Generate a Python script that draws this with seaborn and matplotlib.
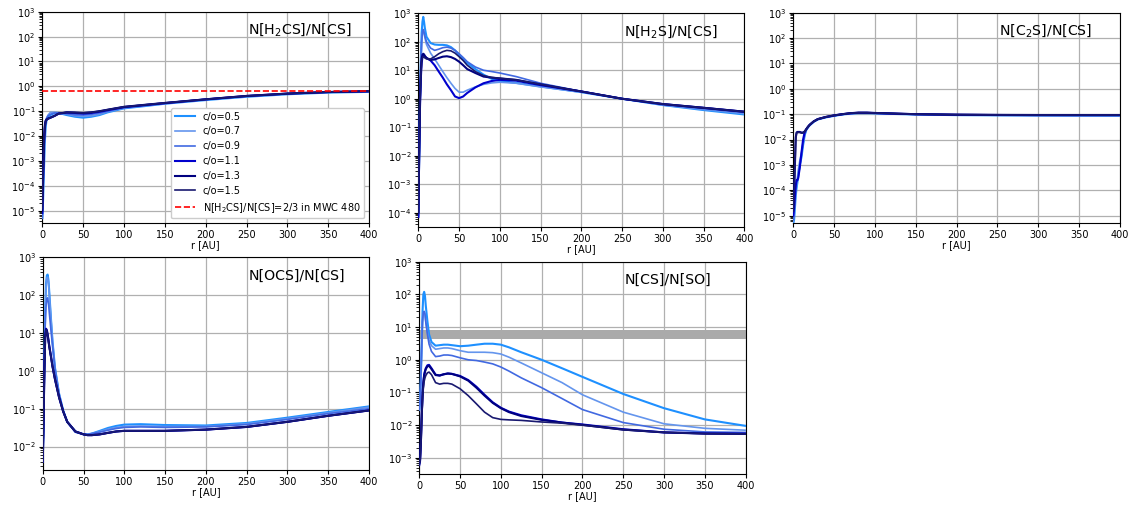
import math
import pandas as pd
import matplotlib
matplotlib.use("Agg")
import matplotlib.pyplot as plt
import matplotlib.ticker as mticker
import seaborn as sns

# ---- series setup ----
co_labels = ["c/o=0.5", "c/o=0.7", "c/o=0.9", "c/o=1.1", "c/o=1.3", "c/o=1.5"]
co_colors = ["#1E90FF", "#6495ED", "#4169E1", "#0000CD", "#000080", "#191970"]
co_widths = [1.5, 1.2, 1.2, 1.5, 1.5, 1.2]

# ---- N[H2CS]/N[CS] ----
r_h2cs = [0, 1, 2, 3, 4, 5, 7, 10, 15, 20, 30, 40, 50, 60, 70, 80, 100, 125, 150, 200, 250, 300, 350, 400]
h2cs_05 = [5e-6, 3e-5, 4e-4, 5e-3, 0.02, 0.04, 0.06, 0.07, 0.085, 0.085, 0.07, 0.06, 0.055, 0.06, 0.07, 0.09, 0.13, 0.16, 0.2, 0.28, 0.38, 0.48, 0.56, 0.6]
h2cs_07 = [6e-6, 5e-5, 8e-4, 8e-3, 0.03, 0.05, 0.07, 0.09, 0.09, 0.085, 0.075, 0.065, 0.062, 0.065, 0.075, 0.095, 0.135, 0.165, 0.2, 0.29, 0.39, 0.49, 0.57, 0.61]
h2cs_09 = [5e-6, 8e-5, 2e-3, 0.015, 0.035, 0.05, 0.065, 0.075, 0.085, 0.085, 0.08, 0.072, 0.07, 0.075, 0.085, 0.1, 0.14, 0.17, 0.21, 0.3, 0.4, 0.5, 0.58, 0.62]
h2cs_11 = [8e-6, 2e-4, 4e-3, 0.02, 0.04, 0.045, 0.05, 0.055, 0.065, 0.08, 0.088, 0.085, 0.08, 0.085, 0.095, 0.11, 0.145, 0.175, 0.21, 0.3, 0.41, 0.51, 0.59, 0.63]
h2cs_13 = [1e-5, 3e-4, 6e-3, 0.025, 0.04, 0.045, 0.05, 0.055, 0.065, 0.08, 0.09, 0.088, 0.085, 0.09, 0.1, 0.115, 0.15, 0.18, 0.215, 0.3, 0.41, 0.51, 0.59, 0.64]
h2cs_15 = [1.2e-5, 3e-4, 5e-3, 0.02, 0.035, 0.045, 0.05, 0.055, 0.065, 0.08, 0.09, 0.088, 0.085, 0.09, 0.1, 0.115, 0.15, 0.18, 0.215, 0.3, 0.41, 0.51, 0.59, 0.64]
mwc480_ratio = 2 / 3

# ---- N[H2S]/N[CS] ----
r_h2s = [0, 1, 2, 3, 4, 5, 6, 7, 8, 10, 15, 20, 25, 30, 35, 40, 45, 50, 55, 60, 70, 80, 90, 100, 120, 150, 200, 250, 300, 350, 400]
h2s_05 = [8e-5, 1e-2, 1, 20, 200, 500, 750, 500, 300, 150, 90, 80, 78, 78, 75, 65, 50, 35, 25, 18, 11, 7, 5, 4.2, 3.6, 2.7, 1.7, 1.0, 0.6, 0.4, 0.28]
h2s_07 = [7e-5, 5e-3, 0.5, 10, 80, 200, 260, 200, 140, 80, 40, 25, 15, 9, 5.5, 3.5, 2.3, 1.7, 1.7, 2.0, 2.6, 3.2, 3.6, 3.8, 3.5, 2.6, 1.7, 1.0, 0.6, 0.42, 0.3]
h2s_09 = [9e-5, 8e-3, 0.8, 15, 100, 220, 270, 220, 160, 100, 60, 50, 55, 62, 65, 60, 50, 38, 28, 20, 13, 10, 9, 8, 6, 3.5, 1.8, 1.0, 0.62, 0.45, 0.33]
h2s_11 = [7e-5, 1e-2, 0.5, 5, 18, 28, 32, 32, 30, 27, 22, 15, 9, 5.5, 3.2, 2, 1.2, 1.05, 1.2, 1.6, 2.5, 3.5, 4.2, 4.6, 4.3, 3.0, 1.8, 1.0, 0.65, 0.48, 0.35]
h2s_13 = [1e-4, 1e-2, 0.8, 8, 25, 35, 38, 36, 32, 27, 23, 24, 27, 30, 31, 29, 25, 20, 15, 11, 8, 6, 5.5, 5.2, 4.6, 3.2, 1.8, 1.0, 0.65, 0.48, 0.35]
h2s_15 = [1e-4, 1e-2, 0.7, 6, 20, 28, 30, 29, 27, 25, 25, 30, 38, 45, 50, 48, 40, 30, 22, 15, 9, 6.5, 5.6, 5.2, 4.6, 3.2, 1.8, 1.0, 0.65, 0.48, 0.35]

# ---- N[C2S]/N[CS] ----
r_c2s = [0, 1, 2, 3, 4, 5, 6, 8, 10, 12, 14, 16, 18, 20, 25, 30, 40, 50, 60, 70, 80, 90, 100, 125, 150, 200, 250, 300, 350, 400]
c2s_05 = [5e-6, 7e-6, 2e-5, 6e-5, 1.2e-4, 2e-4, 4e-4, 1e-3, 2e-3, 6e-3, 0.015, 0.024, 0.03, 0.036, 0.05, 0.062, 0.075, 0.086, 0.097, 0.105, 0.11, 0.11, 0.108, 0.102, 0.097, 0.092, 0.09, 0.089, 0.088, 0.087]
c2s_07 = [6e-6, 1e-5, 3e-5, 8e-5, 1.5e-4, 3e-4, 6e-4, 1.5e-3, 3e-3, 8e-3, 0.017, 0.025, 0.031, 0.037, 0.051, 0.063, 0.076, 0.087, 0.098, 0.106, 0.111, 0.111, 0.109, 0.103, 0.098, 0.093, 0.091, 0.09, 0.089, 0.088]
c2s_09 = [7e-6, 1.5e-5, 4e-5, 1e-4, 2e-4, 2.5e-4, 3e-4, 1e-3, 2.5e-3, 7e-3, 0.016, 0.025, 0.031, 0.037, 0.051, 0.063, 0.077, 0.088, 0.099, 0.107, 0.112, 0.112, 0.11, 0.104, 0.099, 0.094, 0.092, 0.091, 0.09, 0.09]
c2s_11 = [1e-5, 2e-5, 6e-5, 1.5e-4, 2.5e-4, 2.5e-4, 3e-4, 8e-4, 3e-3, 0.01, 0.02, 0.026, 0.032, 0.038, 0.052, 0.064, 0.078, 0.089, 0.1, 0.109, 0.114, 0.114, 0.111, 0.105, 0.1, 0.095, 0.093, 0.092, 0.092, 0.092]
c2s_13 = [2e-5, 9e-5, 1e-3, 0.012, 0.019, 0.02, 0.02, 0.02, 0.019, 0.019, 0.021, 0.026, 0.032, 0.038, 0.052, 0.064, 0.078, 0.09, 0.1, 0.11, 0.115, 0.115, 0.112, 0.106, 0.1, 0.096, 0.094, 0.093, 0.093, 0.093]
c2s_15 = [1.5e-5, 8e-5, 8e-4, 0.01, 0.018, 0.019, 0.019, 0.019, 0.018, 0.018, 0.021, 0.026, 0.032, 0.038, 0.052, 0.064, 0.078, 0.09, 0.1, 0.11, 0.115, 0.115, 0.112, 0.106, 0.1, 0.096, 0.094, 0.093, 0.093, 0.093]

# ---- N[OCS]/N[CS] ----
r_ocs = [0, 1, 2, 3, 4, 5, 6, 7, 8, 10, 12, 15, 20, 25, 30, 40, 50, 55, 60, 70, 80, 90, 100, 120, 150, 200, 250, 300, 350, 400]
ocs_05 = [4e-3, 0.05, 2, 40, 200, 330, 350, 250, 120, 25, 6, 1.2, 0.25, 0.09, 0.045, 0.025, 0.021, 0.021, 0.022, 0.026, 0.031, 0.035, 0.038, 0.039, 0.037, 0.036, 0.042, 0.058, 0.082, 0.115]
ocs_07 = [4e-3, 0.04, 1.5, 30, 150, 280, 300, 220, 110, 25, 6, 1.2, 0.25, 0.09, 0.045, 0.024, 0.021, 0.021, 0.022, 0.025, 0.029, 0.032, 0.034, 0.035, 0.034, 0.034, 0.04, 0.055, 0.078, 0.11]
ocs_09 = [4e-3, 0.03, 1, 15, 50, 80, 85, 60, 35, 12, 4.5, 1.1, 0.24, 0.09, 0.045, 0.024, 0.021, 0.021, 0.022, 0.024, 0.027, 0.03, 0.032, 0.033, 0.032, 0.033, 0.038, 0.052, 0.074, 0.1]
ocs_11 = [4e-3, 0.05, 1.2, 8, 13, 12, 9, 6.5, 4.5, 2.5, 1.3, 0.6, 0.2, 0.085, 0.045, 0.025, 0.021, 0.02, 0.02, 0.021, 0.023, 0.025, 0.026, 0.026, 0.026, 0.028, 0.033, 0.045, 0.065, 0.09]
ocs_13 = [4e-3, 0.05, 1.1, 7.5, 12.5, 11.5, 8.8, 6.3, 4.4, 2.4, 1.3, 0.6, 0.2, 0.085, 0.045, 0.025, 0.021, 0.02, 0.02, 0.021, 0.023, 0.025, 0.026, 0.026, 0.026, 0.028, 0.033, 0.045, 0.065, 0.09]
ocs_15 = [4e-3, 0.05, 1.0, 7, 12, 11, 8.5, 6.2, 4.3, 2.4, 1.3, 0.6, 0.2, 0.085, 0.045, 0.025, 0.021, 0.02, 0.02, 0.021, 0.023, 0.025, 0.026, 0.026, 0.026, 0.028, 0.033, 0.045, 0.065, 0.09]

# ---- N[CS]/N[SO] ----
r_so = [0, 1, 2, 3, 4, 5, 6, 7, 8, 10, 12, 15, 20, 25, 30, 35, 40, 50, 60, 70, 80, 90, 100, 110, 125, 150, 175, 200, 250, 300, 350, 400]
so_05 = [0.03, 0.05, 0.3, 3, 30, 100, 120, 90, 45, 15, 6, 3.5, 2.7, 2.8, 2.9, 2.9, 2.8, 2.6, 2.7, 2.9, 3.1, 3.1, 2.9, 2.4, 1.7, 1.0, 0.55, 0.3, 0.09, 0.033, 0.015, 0.0095]
so_07 = [0.03, 0.05, 0.3, 2.5, 15, 28, 30, 25, 15, 7, 4, 2.7, 2.1, 2.2, 2.3, 2.3, 2.2, 1.9, 1.7, 1.7, 1.7, 1.65, 1.5, 1.2, 0.8, 0.4, 0.2, 0.085, 0.025, 0.011, 0.008, 0.007]
so_09 = [0.03, 0.05, 0.3, 2.5, 15, 28, 30, 25, 14, 6, 3, 1.8, 1.25, 1.3, 1.4, 1.4, 1.35, 1.15, 1.0, 0.95, 0.85, 0.75, 0.6, 0.45, 0.28, 0.14, 0.065, 0.03, 0.012, 0.0075, 0.0062, 0.006]
so_11 = [6e-4, 8e-4, 3e-3, 0.02, 0.08, 0.2, 0.35, 0.45, 0.55, 0.68, 0.7, 0.55, 0.35, 0.33, 0.36, 0.38, 0.37, 0.32, 0.24, 0.15, 0.085, 0.05, 0.034, 0.026, 0.02, 0.015, 0.012, 0.0105, 0.0075, 0.006, 0.0056, 0.0055]
so_13 = [7e-4, 9e-4, 3e-3, 0.02, 0.08, 0.2, 0.33, 0.43, 0.52, 0.63, 0.65, 0.52, 0.34, 0.33, 0.36, 0.38, 0.37, 0.31, 0.23, 0.14, 0.08, 0.048, 0.033, 0.025, 0.019, 0.0145, 0.012, 0.0102, 0.0073, 0.006, 0.0055, 0.0054]
so_15 = [6e-4, 8e-4, 2.5e-3, 0.015, 0.06, 0.14, 0.22, 0.28, 0.33, 0.4, 0.42, 0.35, 0.2, 0.18, 0.19, 0.19, 0.18, 0.13, 0.08, 0.045, 0.025, 0.017, 0.015, 0.0145, 0.014, 0.0125, 0.0115, 0.01, 0.0072, 0.006, 0.0055, 0.0054]
so_band = (4.3, 8.0)

# ---- panel layout (figure fractions) ----
panels = [
    ("N[H$_2$CS]/N[CS]", r_h2cs, [h2cs_05, h2cs_07, h2cs_09, h2cs_11, h2cs_13, h2cs_15], 3.1e-6, [0.0374, 0.5604, 0.2889, 0.4165]),
    ("N[H$_2$S]/N[CS]", r_h2s, [h2s_05, h2s_07, h2s_09, h2s_11, h2s_13, h2s_15], 3.2e-5, [0.3699, 0.5537, 0.2882, 0.4201]),
    ("N[C$_2$S]/N[CS]", r_c2s, [c2s_05, c2s_07, c2s_09, c2s_11, c2s_13, c2s_15], 5.3e-6, [0.7014, 0.5616, 0.2889, 0.4134]),
    ("N[OCS]/N[CS]", r_ocs, [ocs_05, ocs_07, ocs_09, ocs_11, ocs_13, ocs_15], 2.4e-3, [0.0378, 0.0748, 0.2885, 0.4187]),
    ("N[CS]/N[SO]", r_so, [so_05, so_07, so_09, so_11, so_13, so_15], 3.2e-4, [0.3707, 0.0669, 0.2886, 0.4179]),
]

fig = plt.figure(figsize=(11.31, 5.08), dpi=100)

axes = []
for title, r, series, ymin, pos in panels:
    ax = fig.add_axes(pos)
    if title == "N[CS]/N[SO]":
        ax.axhspan(so_band[0], so_band[1], color="#aaaaaa", lw=0, zorder=1.5)
    for vals, lab, col, lw in zip(series, co_labels, co_colors, co_widths):
        df = pd.DataFrame({"r": r, "ratio": vals})
        sns.lineplot(data=df, x="r", y="ratio", color=col, lw=lw, label=lab,
                     ax=ax, legend=False, estimator=None, sort=False, zorder=3)
    ax.set_yscale("log")
    ax.set_xlim(0, 400)
    ax.set_ylim(ymin, 1e3)
    # only decades inside the view, so no hidden labels spill out
    k0 = math.ceil(math.log10(ymin))
    ax.yaxis.set_major_locator(mticker.FixedLocator([10.0 ** k for k in range(k0, 4)]))
    minors = [m * 10.0 ** k for k in range(k0 - 1, 3) for m in range(2, 10) if m * 10.0 ** k >= ymin]
    ax.yaxis.set_minor_locator(mticker.FixedLocator(minors))
    ax.yaxis.set_major_formatter(mticker.LogFormatterSciNotation())
    ax.yaxis.set_minor_formatter(mticker.NullFormatter())
    ax.set_xticks(range(0, 401, 50))
    ax.grid(True, which="major", color="#b0b0b0", lw=0.9)
    ax.set_axisbelow(True)
    ax.tick_params(labelsize=7, length=3, pad=2)
    ax.set_xlabel("r [AU]", fontsize=7, labelpad=0)
    ax.set_ylabel("")
    ax.text(0.63, 0.915, title, transform=ax.transAxes, fontsize=10.2, va="center")
    axes.append(ax)

ax0 = axes[0]
ax0.axhline(mwc480_ratio, color="red", ls="--", lw=1.2,
            label="N[H$_2$CS]/N[CS]=2/3 in MWC 480", zorder=4)
ax0.legend(loc="lower right", fontsize=7, framealpha=1.0)

fig.savefig("out.png", dpi=100)
